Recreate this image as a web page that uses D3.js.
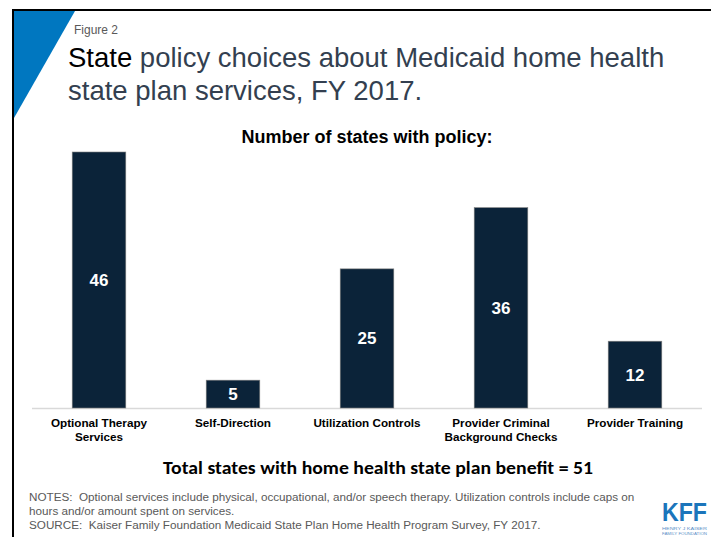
<!DOCTYPE html>
<html>
<head>
<meta charset="utf-8">
<script src="https://cdn.jsdelivr.net/npm/d3@7"></script>
<style>
  html, body { margin: 0; padding: 0; background: #fff; }
  svg { display: block; }
</style>
</head>
<body>
<svg id="chart" width="715" height="537"></svg>
<script>
// Policy categories (line-split for the axis labels) and state counts
const categories = ["Optional Therapy Services", "Self-Direction", "Utilization Controls", "Provider Criminal Background Checks", "Provider Training"];
const categoryLines = [["Optional Therapy", "Services"], ["Self-Direction"], ["Utilization Controls"], ["Provider Criminal", "Background Checks"], ["Provider Training"]];
const stateCounts = [46, 5, 25, 36, 12];

const notesLines = [
  "NOTES:  Optional services include physical, occupational, and/or speech therapy. Utilization controls include caps on",
  "hours and/or amount spent on services.",
  "SOURCE:  Kaiser Family Foundation Medicaid State Plan Home Health Program Survey, FY 2017."
];

const svg = d3.select("#chart");
const W = 715, H = 537;
const ARIAL = "Arial, 'Liberation Sans', sans-serif";

// Slide frame
svg.append("rect").attr("width", W).attr("height", H).attr("fill", "#fff");
svg.append("line").attr("x1", 12).attr("x2", 711).attr("y1", 10).attr("y2", 10)
  .attr("stroke", "#000").attr("stroke-width", 2);
svg.append("line").attr("x1", 13).attr("x2", 13).attr("y1", 9).attr("y2", H)
  .attr("stroke", "#000").attr("stroke-width", 2);

// Blue corner wedge
svg.append("path").attr("d", "M14,11 L75,11 L14,118 Z").attr("fill", "#0077c0");

// Header text
svg.append("text").attr("x", 74).attr("y", 34)
  .attr("font-family", ARIAL).attr("font-size", 12)
  .attr("fill", "#595959").text("Figure 2");

const title = svg.append("text")
  .attr("font-family", ARIAL).attr("font-size", 27.5)
  .attr("fill", "#333f50");
const t1 = title.append("tspan").attr("x", 68).attr("y", 67);
t1.append("tspan").attr("fill", "#000").text("State");
t1.append("tspan").text(" policy choices about Medicaid home health");
title.append("tspan").attr("x", 68).attr("y", 100).text("state plan services, FY 2017.");

svg.append("text").attr("x", 367).attr("y", 143).attr("text-anchor", "middle")
  .attr("font-family", ARIAL).attr("font-size", 18)
  .attr("font-weight", "bold").attr("fill", "#000").text("Number of states with policy:");

// Scales
const x = d3.scaleBand().domain(categories).range([32, 702]).paddingInner(0.6).paddingOuter(0.3);
const y = d3.scaleLinear().domain([0, 46]).range([408, 152]);

// Baseline
svg.append("line").attr("x1", 32).attr("x2", 702).attr("y1", y(0) + 0.5).attr("y2", y(0) + 0.5)
  .attr("stroke", "#d9d9d9").attr("stroke-width", 1.5);

// Bars
svg.append("g").selectAll("rect").data(stateCounts).join("rect")
  .attr("x", (d, i) => x(categories[i]))
  .attr("y", d => y(d))
  .attr("width", x.bandwidth())
  .attr("height", d => y(0) - y(d))
  .attr("fill", "#0b2339")
  .attr("stroke", "#7f7f7f").attr("stroke-width", 0.6);

// Value labels centered in each bar
svg.append("g").selectAll("text").data(stateCounts).join("text")
  .attr("x", (d, i) => x(categories[i]) + x.bandwidth() / 2)
  .attr("y", d => (y(d) + y(0)) / 2 + 6)
  .attr("text-anchor", "middle")
  .attr("font-family", ARIAL).attr("font-size", 17)
  .attr("font-weight", "bold").attr("fill", "#fff")
  .text(d => d);

// Category labels
const catG = svg.append("g");
categories.forEach((c, i) => {
  const t = catG.append("text")
    .attr("text-anchor", "middle")
    .attr("font-family", ARIAL).attr("font-size", 11.7)
    .attr("font-weight", "bold").attr("fill", "#000");
  categoryLines[i].forEach((line, j) => {
    t.append("tspan").attr("x", x(c) + x.bandwidth() / 2).attr("y", 427 + j * 14).text(line);
  });
});

// Total note
svg.append("text").attr("x", 378).attr("y", 474).attr("text-anchor", "middle")
  .attr("font-family", "Carlito, Calibri, Lato, 'Open Sans', sans-serif").attr("font-size", 19)
  .attr("font-weight", "bold").attr("fill", "#000")
  .attr("textLength", 430).attr("lengthAdjust", "spacingAndGlyphs")
  .text("Total states with home health state plan benefit = 51");

// Notes and source
svg.append("g").selectAll("text").data(notesLines).join("text")
  .attr("x", 29).attr("y", (d, i) => 501 + i * 14)
  .attr("font-family", ARIAL).attr("font-size", 11.7)
  .attr("fill", "#595959")
  .attr("xml:space", "preserve").style("white-space", "pre")
  .text(d => d);

// KFF wordmark with the two small name lines beneath
const logo = svg.append("g").attr("transform", "translate(662,501)")
  .attr("font-family", ARIAL);
logo.append("text").attr("x", 0).attr("y", 20)
  .attr("font-size", 25).attr("font-weight", "bold").attr("fill", "#1b75bb")
  .attr("textLength", 45).attr("lengthAdjust", "spacingAndGlyphs").text("KFF");
logo.append("text").attr("x", 0).attr("y", 29.3)
  .attr("font-size", 4).attr("fill", "#5b8fc7")
  .attr("textLength", 45).attr("lengthAdjust", "spacingAndGlyphs").text("HENRY J KAISER");
logo.append("text").attr("x", 0).attr("y", 33.6)
  .attr("font-size", 4).attr("fill", "#5b8fc7")
  .attr("textLength", 45).attr("lengthAdjust", "spacingAndGlyphs").text("FAMILY FOUNDATION");
</script>
</body>
</html>
